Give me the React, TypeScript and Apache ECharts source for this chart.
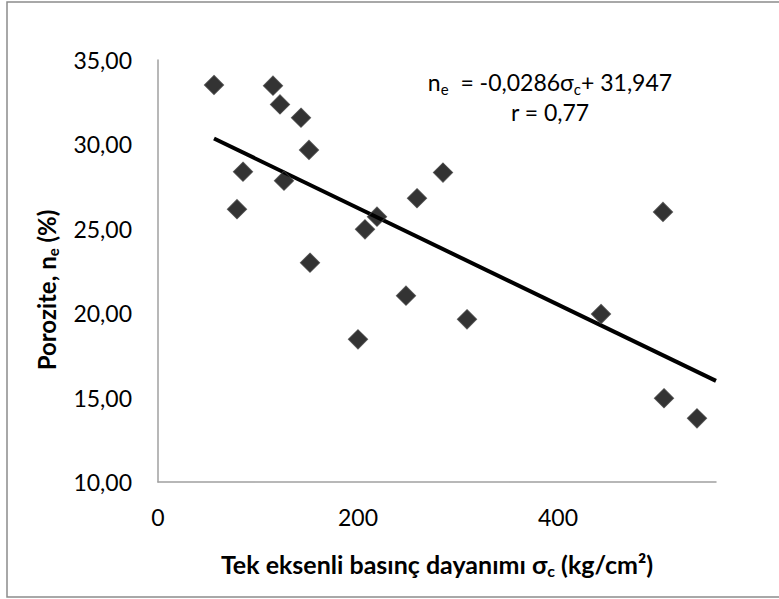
import React, { useEffect, useRef } from "react";
import * as echarts from "echarts";

// Uniaxial compressive strength σc (kg/cm²)
const sigmaC: number[] = [56, 115, 122, 143, 151, 85, 126, 79, 219, 207, 152, 259, 285, 200, 248, 309, 443, 506, 539, 505];
// Porosity ne (%)
const porosity: number[] = [33.52, 33.48, 32.37, 31.58, 29.67, 28.38, 27.85, 26.16, 25.72, 24.97, 22.99, 26.81, 28.33, 18.45, 21.04, 19.64, 19.95, 14.96, 13.77, 26.0];

// Linear trendline as printed on the chart
const TREND_SLOPE = -0.0286;
const TREND_INTERCEPT = 31.947;
const trendX: number[] = [56, 558];

const xTicks: number[] = [0, 200, 400];
const yTicks: number[] = [10, 15, 20, 25, 30, 35];

const FONT = "Lato, 'Open Sans', sans-serif";

export default function App() {
  const ref = useRef<HTMLDivElement>(null);

  useEffect(() => {
    if (!ref.current) return;
    const chart = echarts.init(ref.current, undefined, { renderer: "svg" });
    const points = sigmaC.map((x, i) => [x, porosity[i]]);
    const trend = trendX.map((x) => [x, TREND_SLOPE * x + TREND_INTERCEPT]);

    chart.setOption({
      animation: false,
      backgroundColor: "#ffffff",
      textStyle: { fontFamily: FONT },
      grid: { left: 158, right: 63, top: 60, bottom: 117, containLabel: false },
      xAxis: {
        type: "value",
        min: 0,
        max: 558,
        interval: 200,
        splitLine: { show: false },
        axisTick: { show: false },
        axisLine: { show: true, lineStyle: { color: "#a0a0a0", width: 1.5 } },
        axisLabel: {
          color: "#000",
          fontSize: 23,
          fontFamily: FONT,
          margin: 23,
          showMaxLabel: false,
          formatter: (v: number) => (xTicks.includes(v) ? String(v) : ""),
        },
        name: "{b|Tek eksenli basınç dayanımı σ}{bs|c}{b| (kg/cm²)}",
        nameLocation: "middle",
        nameGap: 67,
        nameTextStyle: {
          rich: {
            b: { fontSize: 25, fontWeight: "bold", color: "#000", fontFamily: FONT, lineHeight: 30 },
            bs: { fontSize: 16, fontWeight: "bold", color: "#000", fontFamily: FONT, lineHeight: 30, padding: [13, 0, 0, 0] },
          },
        },
      },
      yAxis: {
        type: "value",
        min: 10,
        max: 35,
        interval: 5,
        splitLine: { show: false },
        axisTick: { show: false },
        axisLine: { show: true, lineStyle: { color: "#a0a0a0", width: 1.5 } },
        axisLabel: {
          color: "#000",
          fontSize: 23,
          fontFamily: FONT,
          margin: 26,
          formatter: (v: number) => (yTicks.includes(v) ? v.toFixed(2).replace(".", ",") : ""),
        },
      },
      graphic: [
        {
          type: "rect",
          shape: { x: 7, y: 2, width: 800, height: 595 },
          style: { fill: "none", stroke: "#8c8c8c", lineWidth: 1.5 },
          silent: true,
          z: -1,
        },
        {
          type: "text",
          x: 46,
          y: 290,
          rotation: Math.PI / 2,
          style: {
            text: "{b|Porozite, n}{bs|e}{b| (%)}",
            align: "center",
            verticalAlign: "middle",
            rich: {
              b: { fontSize: 24, fontWeight: "bold", fill: "#000", fontFamily: FONT, lineHeight: 30 },
              bs: { fontSize: 15, fontWeight: "bold", fill: "#000", fontFamily: FONT, lineHeight: 30, padding: [13, 0, 0, 0] },
            },
          },
        },
        {
          type: "text",
          x: 550,
          y: 97,
          style: {
            text: "{n|n}{s|e}{n|  = -0,0286σ}{s|c}{n|+ 31,947}\n{n|r = 0,77}",
            align: "center",
            verticalAlign: "middle",
            rich: {
              n: { fontSize: 23, fill: "#000", fontFamily: FONT, lineHeight: 30, align: "center" },
              s: { fontSize: 15, fill: "#000", fontFamily: FONT, lineHeight: 30, padding: [13, 0, 0, 0] },
            },
          },
        },
      ],
      series: [
        {
          type: "scatter",
          data: points,
          symbol: "diamond",
          symbolSize: 19,
          itemStyle: { color: "#000000", borderColor: "#3c3c3c", borderWidth: 1.2 },
          z: 3,
        },
        {
          type: "line",
          data: trend,
          symbol: "none",
          lineStyle: { color: "#000000", width: 4 },
          z: 2,
        },
      ],
    });
    return () => chart.dispose();
  }, []);

  return (
    <div
      ref={ref}
      style={{ position: "fixed", left: 0, top: 0, width: 779, height: 599, background: "#fff" }}
    />
  );
}
